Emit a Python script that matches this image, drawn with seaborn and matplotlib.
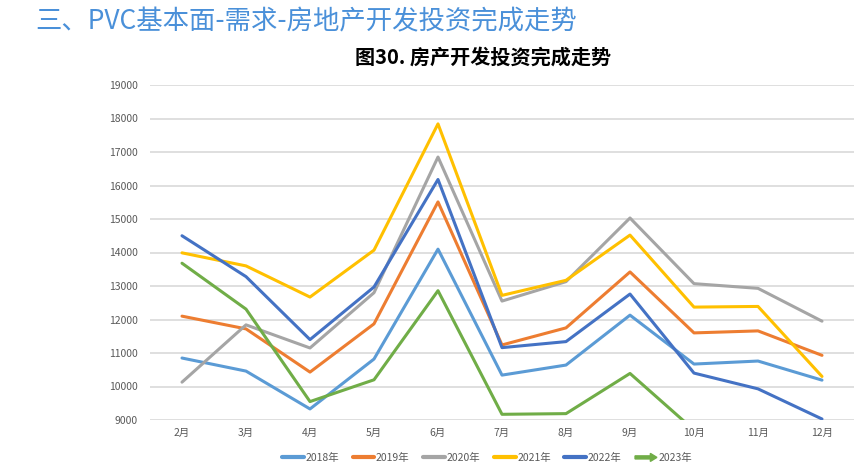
import matplotlib
matplotlib.use("Agg")
import matplotlib.pyplot as plt
import matplotlib.patches as mpatches
from matplotlib.legend_handler import HandlerPatch
from matplotlib.lines import Line2D
import seaborn as sns
import pandas as pd
import numpy as np

months = ["2月", "3月", "4月", "5月", "6月", "7月", "8月", "9月", "10月", "11月", "12月"]
years = ["2018年", "2019年", "2020年", "2021年", "2022年", "2023年"]

v2018 = [10850, 10460, 9330, 10820, 14100, 10340, 10640, 12130, 10670, 10760, 10190]
v2019 = [12100, 11720, 10430, 11870, 15510, 11240, 11750, 13420, 11600, 11660, 10930]
v2020 = [10130, 11840, 11150, 12800, 16850, 12550, 13130, 15030, 13070, 12930, 11950]
v2021 = [13990, 13600, 12670, 14070, 17840, 12720, 13170, 14520, 12370, 12390, 10300]
v2022 = [14500, 13280, 11400, 12970, 16180, 11160, 11340, 12760, 10400, 9930, 9030]
v2023 = [13680, 12310, 9550, 10200, 12860, 9170, 9190, 10390, 8700, None, None]

colors = ["#5B9BD5", "#ED7D31", "#A5A5A5", "#FFC000", "#4472C4", "#70AD47"]

series = [v2018, v2019, v2020, v2021, v2022, v2023]
rows = []
for y, vals in zip(years, series):
    for m, v in zip(months, vals):
        if v is not None:
            rows.append({"month": m, "value": v, "year": y})
df = pd.DataFrame(rows)
df["xpos"] = df["month"].map({m: i for i, m in enumerate(months)})

sns.set_theme(style="white")
plt.rcParams["font.family"] = ["Noto Sans CJK SC", "DejaVu Sans"]

fig = plt.figure(figsize=(8.67, 4.72), dpi=100)
ax = fig.add_axes([150 / 867, 52 / 472, 704 / 867, 335 / 472])

sns.lineplot(data=df, x="xpos", y="value", hue="year", palette=colors,
             hue_order=years, linewidth=2.2, ax=ax, legend=False, sort=False)

ax.set_xlim(-0.5, 10.5)
ax.set_ylim(9000, 19000)
ax.set_yticks(np.arange(9000, 19001, 1000))
ax.set_xticks(range(len(months)))
ax.set_xticklabels(months)
ax.set_xlabel("")
ax.set_ylabel("")
ax.grid(axis="y", color="#D9D9D9", linewidth=1.2)
ax.set_axisbelow(True)
for s in ax.spines.values():
    s.set_visible(False)
ax.tick_params(axis="both", length=0, labelsize=7.5, labelcolor="#595959")
ax.tick_params(axis="y", pad=9)
ax.tick_params(axis="x", pad=6)


def make_arrow(legend, orig_handle, xdescent, ydescent, width, height, fontsize):
    return mpatches.FancyArrow(0, height / 2, width, 0, width=2.2,
                               length_includes_head=True, head_width=height * 1.1,
                               head_length=height * 0.9, color=colors[5])


handles = [Line2D([0], [0], color=c, linewidth=3) for c in colors[:5]]
handles.append(mpatches.Patch(color=colors[5]))
leg = fig.legend(handles, years, loc="center", bbox_to_anchor=(487 / 867, 1 - 458 / 472),
                 ncol=6, frameon=False, fontsize=7.5, handlelength=2.1,
                 handletextpad=0.15, columnspacing=1.3,
                 handler_map={mpatches.Patch: HandlerPatch(patch_func=make_arrow)})
for t in leg.get_texts():
    t.set_color("#595959")

fig.text(35 / 867, 1 - 22 / 472, "三、PVC基本面-需求-房地产开发投资完成走势",
         fontsize=19, color="#4A90D9", va="center", ha="left")
fig.text(483 / 867, 1 - 57 / 472, "图30. 房产开发投资完成走势",
         fontsize=14.5, fontweight="bold", color="black", va="center", ha="center")

fig.savefig("out.png", dpi=100)
